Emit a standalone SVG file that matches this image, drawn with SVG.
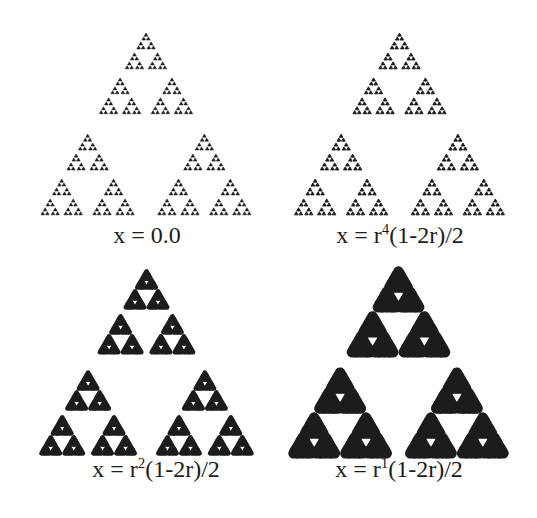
<svg xmlns="http://www.w3.org/2000/svg" xmlns:xlink="http://www.w3.org/1999/xlink" width="537" height="518" viewBox="0 0 537 518">
  <style>
    .leaf { fill: #1c1c1c; stroke: #1c1c1c; stroke-linejoin: round; }
    .label { font-family: "Liberation Serif", "Times New Roman", serif; font-size: 24px; fill: #1c1c1c; text-anchor: middle; }
  </style>
  <defs>
    <polygon id="t0" class="leaf" points="0,0.8660254 1,0.8660254 0.5,0"/>
    <g id="t1">
      <use href="#t0" transform="translate(0.278 0) scale(0.444)"/>
      <use href="#t0" transform="translate(0 0.48151) scale(0.444)"/>
      <use href="#t0" transform="translate(0.556 0.48151) scale(0.444)"/>
    </g>
    <g id="t2">
      <use href="#t1" transform="translate(0.278 0) scale(0.444)"/>
      <use href="#t1" transform="translate(0 0.48151) scale(0.444)"/>
      <use href="#t1" transform="translate(0.556 0.48151) scale(0.444)"/>
    </g>
    <g id="t3">
      <use href="#t2" transform="translate(0.278 0) scale(0.444)"/>
      <use href="#t2" transform="translate(0 0.48151) scale(0.444)"/>
      <use href="#t2" transform="translate(0.556 0.48151) scale(0.444)"/>
    </g>
    <g id="t4">
      <use href="#t3" transform="translate(0.278 0) scale(0.444)"/>
      <use href="#t3" transform="translate(0 0.48151) scale(0.444)"/>
      <use href="#t3" transform="translate(0.556 0.48151) scale(0.444)"/>
    </g>
    <g id="t5">
      <use href="#t4" transform="translate(0.278 0) scale(0.444)"/>
      <use href="#t4" transform="translate(0 0.48151) scale(0.444)"/>
      <use href="#t4" transform="translate(0.556 0.48151) scale(0.444)"/>
    </g>
  </defs>
  <rect width="537" height="518" fill="#ffffff"/>
  <g id="panel-x0">
    <use href="#t5" transform="translate(41 33) scale(210)" style="stroke-width:0.15"/>
    <text class="label" x="147" y="243">x = 0.0</text>
  </g>
  <g id="panel-r4">
    <use href="#t5" transform="translate(294.5 33) scale(210)" style="stroke-width:0.2523"/>
    <text class="label" x="400" y="243">x = r<tspan dy="-9" font-size="15">4</tspan><tspan dy="9">(1-2r)/2</tspan></text>
  </g>
  <g id="panel-r2">
    <use href="#t5" transform="translate(41.5 271.5) scale(210)" style="stroke-width:1.2796"/>
    <text class="label" x="156" y="477">x = r<tspan dy="-9" font-size="15">2</tspan><tspan dy="9">(1-2r)/2</tspan></text>
  </g>
  <g id="panel-r1">
    <use href="#t5" transform="translate(293.5 271.5) scale(210)" style="stroke-width:2.882"/>
    <text class="label" x="399" y="477">x = r<tspan dy="-9" font-size="15">1</tspan><tspan dy="9">(1-2r)/2</tspan></text>
  </g>
</svg>
